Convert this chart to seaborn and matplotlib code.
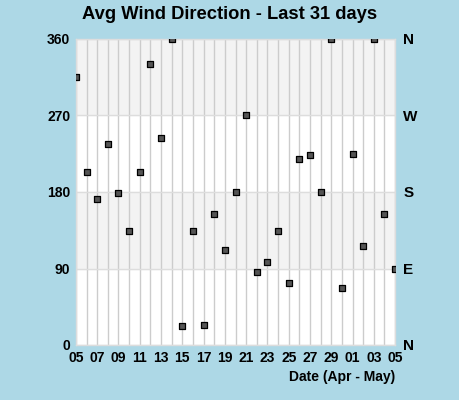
import pandas as pd
import matplotlib.pyplot as plt
import matplotlib.dates as mdates
import seaborn as sns

# daily average wind direction, Apr 5 - May 5
dates = [
    "2024-04-05", "2024-04-06", "2024-04-07", "2024-04-08", "2024-04-09",
    "2024-04-10", "2024-04-11", "2024-04-12", "2024-04-13", "2024-04-14",
    "2024-04-15", "2024-04-16", "2024-04-17", "2024-04-18", "2024-04-19",
    "2024-04-20", "2024-04-21", "2024-04-22", "2024-04-23", "2024-04-24",
    "2024-04-25", "2024-04-26", "2024-04-27", "2024-04-28", "2024-04-29",
    "2024-04-30", "2024-05-01", "2024-05-02", "2024-05-03", "2024-05-04",
    "2024-05-05",
]
direction = [
    315, 203, 172, 236, 179, 134, 204, 330, 244, 360,
    22, 134, 23, 154, 112, 180, 270, 86, 98, 134,
    73, 219, 223, 180, 360, 67, 225, 116, 360, 154,
    89,
]
deg_ticks = [0, 90, 180, 270, 360]
compass_labels = ["N", "E", "S", "W", "N"]

BG = "#add8e6"
FONT = ["Liberation Sans", "DejaVu Sans"]


def main():
    df = pd.DataFrame({"date": pd.to_datetime(dates), "dir": direction})

    sns.set_style("white")
    plt.rcParams["font.family"] = FONT
    for k in ["text.color", "xtick.color", "ytick.color", "axes.labelcolor"]:
        plt.rcParams[k] = "black"

    fig = plt.figure(figsize=(4.6, 4.0), dpi=100, facecolor=BG)
    ax = fig.add_axes([0.165, 0.1375, 0.694, 0.765])
    ax.set_facecolor("white")

    # alternating bands
    ax.axhspan(90, 180, color="#f3f3f3", zorder=0)
    ax.axhspan(270, 360, color="#f3f3f3", zorder=0)

    ax.set_xlim(df["date"].iloc[0], df["date"].iloc[-1])
    ax.set_ylim(0, 360)

    # gridline every day, label every second day
    ax.set_xticks(df["date"].iloc[::2])
    ax.set_xticks(df["date"], minor=True)
    ax.xaxis.set_major_formatter(mdates.DateFormatter("%d"))
    ax.grid(which="both", axis="x", color="#cccccc", linewidth=1)
    ax.grid(axis="y", color="#dddddd", linewidth=1)
    ax.set_axisbelow(True)

    sns.scatterplot(
        data=df, x="date", y="dir", ax=ax, marker="s", s=16,
        color="#555555", edgecolor="black", linewidth=0.9, zorder=3,
        clip_on=True, legend=False,
    )

    ax.set_yticks(deg_ticks)
    ax.set_yticklabels([str(t) for t in deg_ticks])
    ax.tick_params(axis="both", which="both", length=0, labelsize=10, pad=4)
    for lab in ax.get_xticklabels() + ax.get_yticklabels():
        lab.set_fontweight("bold")

    for s in ax.spines.values():
        s.set_color("#dddddd")
        s.set_linewidth(1)

    ax2 = ax.twinx()
    ax2.set_ylim(0, 360)
    ax2.set_yticks(deg_ticks)
    ax2.set_yticklabels(compass_labels, fontweight="bold", fontsize=11)
    ax2.tick_params(axis="y", length=0, pad=6)
    for s in ax2.spines.values():
        s.set_visible(False)

    ax.set_xlabel("Date (Apr - May)", fontweight="bold", fontsize=10,
                  loc="right", labelpad=4)
    ax.set_ylabel("")
    fig.suptitle("Avg Wind Direction - Last 31 days", fontweight="bold",
                 fontsize=13.2, y=0.985)

    plt.savefig("out.png", dpi=100, facecolor=BG)


if __name__ == "__main__":
    main()
